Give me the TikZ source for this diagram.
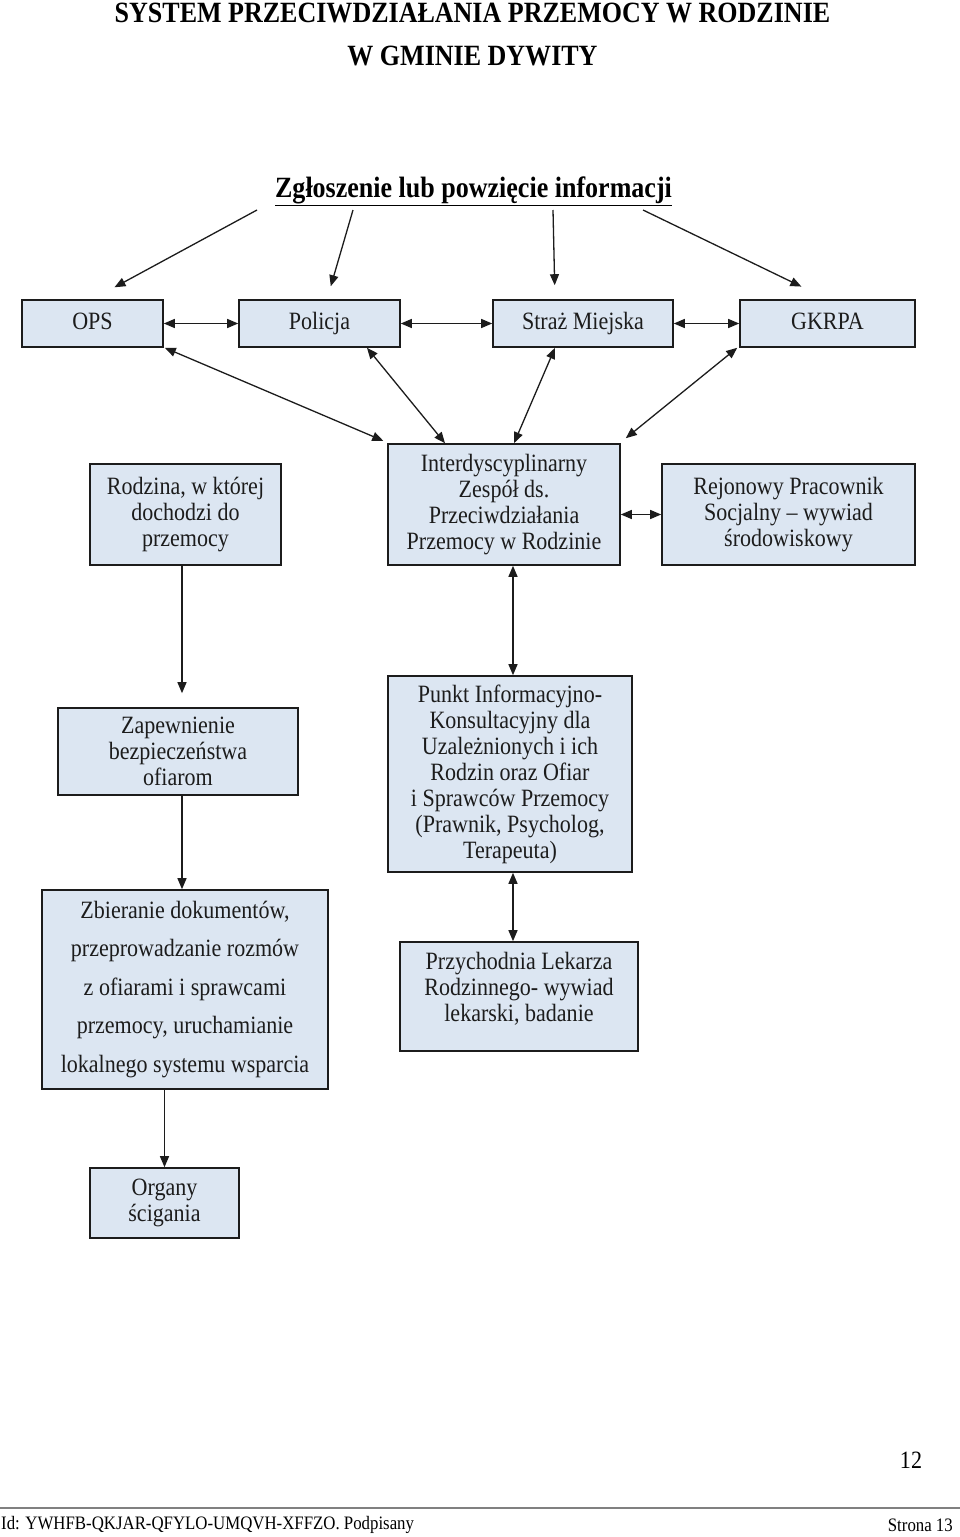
\documentclass[tikz,border=0pt]{standalone}
\usepackage{fontspec}
\setmainfont[FakeStretch=0.885]{Liberation Serif}
\usetikzlibrary{arrows.meta,calc}
\definecolor{boxfill}{HTML}{DCE6F2}
\definecolor{ink}{HTML}{1C1C1C}
\tikzset{
  box/.style={draw=ink, line width=1.6pt, fill=boxfill, inner sep=0pt, align=center,
    text=ink, font=\fontsize{24.9}{26}\selectfont},
  onebox/.style={box, text height=17pt, text depth=5pt, minimum height=47pt},
  txt/.style={inner sep=0pt, align=center, text=ink, font=\fontsize{24.9}{26}\selectfont},
  ttl/.style={inner sep=0pt, font=\fontsize{29.4}{32}\selectfont\bfseries},
  arr/.style={draw=ink, line width=1.3pt, -{Triangle[length=11pt,width=9pt]}},
  darr/.style={draw=ink, line width=1.3pt, {Triangle[length=11pt,width=9pt]}-{Triangle[length=11pt,width=9pt]}},
}
\begin{document}
\begin{tikzpicture}[x=1pt,y=1pt]
\useasboundingbox (0,0) rectangle (960,-1537);
\fill[white] (0,0) rectangle (960,-1537);

% titles
\node[ttl, anchor=base] (t1) at (472.5,-22.5) {SYSTEM PRZECIWDZIAŁANIA PRZEMOCY W RODZINIE};
\node[ttl] (t2) at (472.5,-56) {W GMINIE DYWITY};
\node[ttl] (t3) at (473.5,-191) {\underline{Zgłoszenie lub powzięcie informacji}};

% row 1
\node[onebox, minimum width=141pt] (ops) at (92.5,-323.5) {OPS};
\node[onebox, minimum width=161pt] (pol) at (319.5,-323.5) {Policja};
\node[onebox, minimum width=180pt] (str) at (583,-323.5) {Straż Miejska};
\node[onebox, minimum width=175pt] (gk) at (827.5,-323.5) {GKRPA};

% row 2
\node[box, minimum width=191pt, minimum height=101pt] (rod) at (185.5,-514.5) {Rodzina, w której\\dochodzi do\\przemocy};
\node[box, minimum width=232pt, minimum height=121pt] (iz) at (504,-504.5) {Interdyscyplinarny\\Zespół ds.\\Przeciwdziałania\\Przemocy w Rodzinie};
\node[box, minimum width=253pt, minimum height=101pt] (rej) at (788.5,-514.5) {Rejonowy Pracownik\\Socjalny – wywiad\\środowiskowy};

% row 3
\node[box, minimum width=240pt, minimum height=87pt] (zap) at (178,-751.5) {Zapewnienie\\bezpieczeństwa\\ofiarom};
\node[box, minimum width=244pt, minimum height=196pt] (pkt) at (510,-774) {Punkt Informacyjno-\\Konsultacyjny dla\\Uzależnionych i ich\\Rodzin oraz Ofiar\\i Sprawców Przemocy\\(Prawnik, Psycholog,\\Terapeuta)};

% row 4
\node[box, minimum width=286pt, minimum height=199pt, font=\fontsize{24.9}{38.5}\selectfont] (zb) at (185,-989.5) {Zbieranie dokumentów,\\przeprowadzanie rozmów\\z ofiarami i sprawcami\\przemocy, uruchamianie\\lokalnego systemu wsparcia};
\node[box, minimum width=238pt, minimum height=109pt] (prz) at (519,-996.5) {};
\node[txt] (prztxt) at (519,-989) {Przychodnia Lekarza\\Rodzinnego- wywiad\\lekarski, badanie};

% row 5
\node[box, minimum width=149pt, minimum height=70pt] (org) at (164.5,-1203) {Organy\\ścigania};

% arrows from title
\coordinate (s1) at (257,-210);
\coordinate (s2) at (353,-210);
\coordinate (s3) at (553,-210);
\coordinate (s4) at (643,-210);
\draw[arr, shorten >=25pt] (s1) -- (ops.north);
\draw[arr, shorten >=13.5pt] (s2) -- ([xshift=7.5pt]pol.north);
\draw[arr, shorten >=14pt] (s3) -- ([xshift=-28pt]str.north);
\draw[arr, shorten >=29pt] (s4) -- (gk.north);

% row 1 horizontal
\draw[darr] (ops.east) -- (pol.west);
\draw[darr] (pol.east) -- (str.west);
\draw[darr] (str.east) -- (gk.west);

% row 1 to IZ
\draw[darr, shorten >=1pt] ([xshift=1pt]ops.south east) -- ([xshift=-3pt,yshift=2pt]iz.north west);
\draw[darr] ([xshift=47.5pt]pol.south) -- ([xshift=-59pt]iz.north);
\draw[darr] ([xshift=-28pt]str.south) -- ([xshift=10pt]iz.north);
\draw[darr] ([xshift=-2pt]gk.south west) -- ([xshift=5pt,yshift=5pt]iz.north east);

% IZ to Rejonowy
\draw[darr] (iz.east |- rej.west) -- (rej.west);

% IZ to Punkt
\draw[darr] ([xshift=3pt]pkt.north |- iz.south) -- ([xshift=3pt]pkt.north);
% Punkt to Przychodnia
\draw[darr] ([xshift=3pt]pkt.south) -- ([xshift=3pt]pkt.south |- prz.north);

% left column
\draw[arr, shorten >=14pt] ([xshift=-3.5pt]rod.south) -- ([xshift=-3.5pt]rod.south |- zap.north);
\draw[arr] ([xshift=4pt]zap.south) -- ([xshift=4pt]zap.south |- zb.north);
\draw[arr] (org.north |- zb.south) -- (org.north);

% footer
\node[inner sep=0pt, font=\fontsize{24.9}{26}\selectfont] (pg) at (911,-1460) {12};
\coordinate (fl) at (0,-1508);
\coordinate (fr) at (960,-1508);
\draw[gray, line width=1.5pt] (fl) -- (fr);
\node[inner sep=0pt, anchor=west, font=\fontsize{19}{21}\selectfont] (id) at (1,-1525) {Id: YWHFB-QKJAR-QFYLO-UMQVH-XFFZO. Podpisany};
\node[inner sep=0pt, anchor=east, font=\fontsize{19}{21}\selectfont] (strona) at (953,-1525) {Strona 13};
\end{tikzpicture}
\end{document}
